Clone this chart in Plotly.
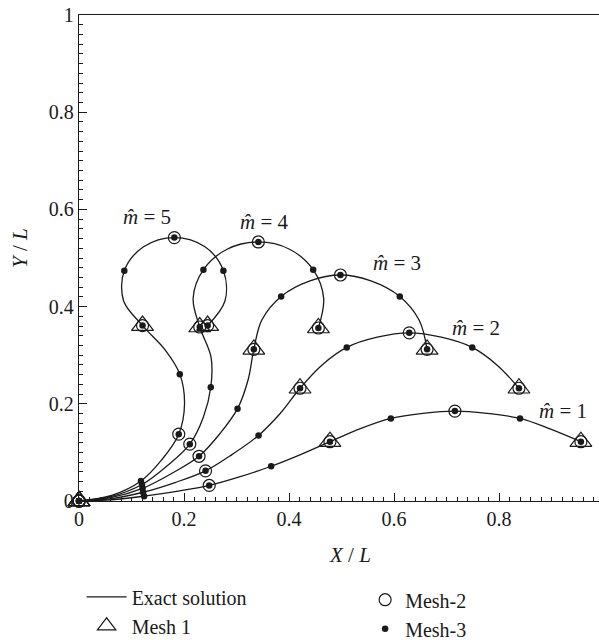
import plotly.graph_objects as go

# Curve samples (X/L, Y/L), including mesh nodes
m1_x = [0, 0.0625, 0.124, 0.186, 0.248, 0.307, 0.366, 0.422, 0.478, 0.536, 0.594, 0.655, 0.716, 0.777, 0.840, 0.896, 0.956]
m1_y = [0, 0.0026, 0.010, 0.0198, 0.032, 0.050, 0.0715, 0.0955, 0.122, 0.149, 0.170, 0.1805, 0.185, 0.1805, 0.170, 0.149, 0.122]

m2_x = [0, 0.0625, 0.122, 0.183, 0.241, 0.292, 0.342, 0.384, 0.421, 0.462, 0.510, 0.568, 0.629, 0.690, 0.749, 0.797, 0.838]
m2_y = [0, 0.005, 0.018, 0.038, 0.062, 0.096, 0.135, 0.181, 0.232, 0.279, 0.316, 0.337, 0.346, 0.337, 0.316, 0.279, 0.232]

m3_x = [0, 0.0625, 0.121, 0.177, 0.2286, 0.268, 0.302, 0.322, 0.333, 0.348, 0.385, 0.440, 0.498, 0.556, 0.611, 0.648, 0.663]
m3_y = [0, 0.0076, 0.026, 0.057, 0.092, 0.138, 0.190, 0.249, 0.312, 0.372, 0.421, 0.453, 0.465, 0.453, 0.421, 0.372, 0.312]

m4_x = [0, 0.0624, 0.120, 0.168, 0.211, 0.237, 0.251, 0.2515, 0.230, 0.2174, 0.237, 0.282, 0.3416, 0.401, 0.446, 0.466, 0.456]
m4_y = [0, 0.0097, 0.034, 0.0725, 0.117, 0.173, 0.234, 0.296, 0.358, 0.4172, 0.476, 0.518, 0.533, 0.518, 0.476, 0.417, 0.356]

m5_x = [0, 0.0623, 0.118, 0.157, 0.190, 0.201, 0.192, 0.164, 0.121, 0.085, 0.0863, 0.123, 0.1816, 0.240, 0.275, 0.278, 0.245]
m5_y = [0, 0.0115, 0.041, 0.084, 0.1375, 0.200, 0.261, 0.311, 0.361, 0.4115, 0.474, 0.523, 0.542, 0.523, 0.474, 0.4115, 0.361]

curves_x = [m1_x, m2_x, m3_x, m4_x, m5_x]
curves_y = [m1_y, m2_y, m3_y, m4_y, m5_y]

# node indices within each curve list: mesh-3 every L/8, mesh-2 every L/4, mesh 1 every L/2
mesh3_idx = [0, 2, 4, 6, 8, 10, 12, 14, 16]
mesh2_idx = [0, 4, 8, 12, 16]
mesh1_idx = [0, 8, 16]

labels = ["1", "2", "3", "4", "5"]
label_x = [0.922, 0.757, 0.605, 0.354, 0.130]
label_y = [0.185, 0.355, 0.490, 0.575, 0.585]

x_ticks = [0, 0.2, 0.4, 0.6, 0.8, 1]
x_tick_text = ["0", "0.2", "0.4", "0.6", "0.8", "1"]
y_ticks = [0, 0.2, 0.4, 0.6, 0.8, 1]
y_tick_text = ["0", "0.2", "0.4", "0.6", "0.8", "1"]

FONT = "Liberation Serif"
BLACK = "#1a1a1a"


def gather(idx):
    xs, ys = [], []
    for cx, cy in zip(curves_x, curves_y):
        for i in idx:
            xs.append(cx[i])
            ys.append(cy[i])
    return xs, ys


fig = go.Figure()

lx, ly = [], []
for cx, cy in zip(curves_x, curves_y):
    lx += cx + [None]
    ly += cy + [None]

fig.add_trace(go.Scatter(x=lx, y=ly, mode="lines", name="Exact solution",
                         line=dict(color=BLACK, width=1.3, shape="spline", smoothing=1.0),
                         legend="legend"))

x1, y1 = gather(mesh1_idx)
fig.add_trace(go.Scatter(x=x1, y=y1, mode="markers", name="Mesh 1", cliponaxis=False,
                         marker=dict(symbol="triangle-up-open", size=19, color=BLACK,
                                     line=dict(width=1.2, color=BLACK)),
                         legend="legend"))

x2, y2 = gather(mesh2_idx)
fig.add_trace(go.Scatter(x=x2, y=y2, mode="markers", name="Mesh-2", cliponaxis=False,
                         marker=dict(symbol="circle-open", size=12, color=BLACK,
                                     line=dict(width=1.2, color=BLACK)),
                         legend="legend2"))

x3, y3 = gather(mesh3_idx)
fig.add_trace(go.Scatter(x=x3, y=y3, mode="markers", name="Mesh-3", cliponaxis=False,
                         marker=dict(symbol="circle", size=6.5, color=BLACK),
                         legend="legend2"))

for t, ax_, ay_ in zip(labels, label_x, label_y):
    fig.add_annotation(x=ax_, y=ay_, xref="x", yref="y", showarrow=False,
                       text="<i>m\u0302</i> = " + t,
                       font=dict(family=FONT, size=21, color=BLACK))

axis_common = dict(
    showgrid=False, zeroline=False, showline=True, linecolor=BLACK, linewidth=1.3,
    mirror=True, ticks="inside", ticklen=8, tickwidth=1.2, tickcolor=BLACK,
    tickfont=dict(family=FONT, size=20, color=BLACK),
    minor=dict(ticks="inside", ticklen=4, tickwidth=1, tickcolor=BLACK, dtick=0.02),
)

fig.update_xaxes(range=[0, 1], tickvals=x_ticks, ticktext=x_tick_text, **axis_common)
fig.update_yaxes(range=[0, 1], tickvals=y_ticks, ticktext=y_tick_text, **axis_common)

fig.add_annotation(x=0.516, y=-0.111, xref="paper", yref="paper", showarrow=False,
                   xanchor="center", yanchor="middle",
                   text="<i>X</i> / <i>L</i>", font=dict(family=FONT, size=21, color=BLACK))
fig.add_annotation(x=-0.111, y=0.52, xref="paper", yref="paper", showarrow=False,
                   xanchor="center", yanchor="middle",
                   text="<i>Y</i> / <i>L</i>", textangle=-90,
                   font=dict(family=FONT, size=21, color=BLACK))

W, H = 620, 643
L_M, T_M = 79, 15
PW, PH = 525, 486
fig.update_layout(
    width=W, height=H,
    margin=dict(l=L_M, r=W - L_M - PW, t=T_M, b=H - T_M - PH, autoexpand=False),
    paper_bgcolor="white", plot_bgcolor="white",
    showlegend=True,
    legend=dict(x=0.005, y=-0.157, xanchor="left", yanchor="top", orientation="v",
                font=dict(family=FONT, size=20, color=BLACK), bgcolor="rgba(0,0,0,0)",
                itemwidth=40, tracegroupgap=8),
    legend2=dict(x=0.545, y=-0.163, xanchor="left", yanchor="top", orientation="v",
                 font=dict(family=FONT, size=20, color=BLACK), bgcolor="rgba(0,0,0,0)",
                 itemwidth=30, tracegroupgap=8),
)

fig.write_html("out.html", config={"displayModeBar": False},
               post_script="document.body.style.margin='0';document.body.style.overflow='hidden';document.documentElement.style.overflow='hidden';")
